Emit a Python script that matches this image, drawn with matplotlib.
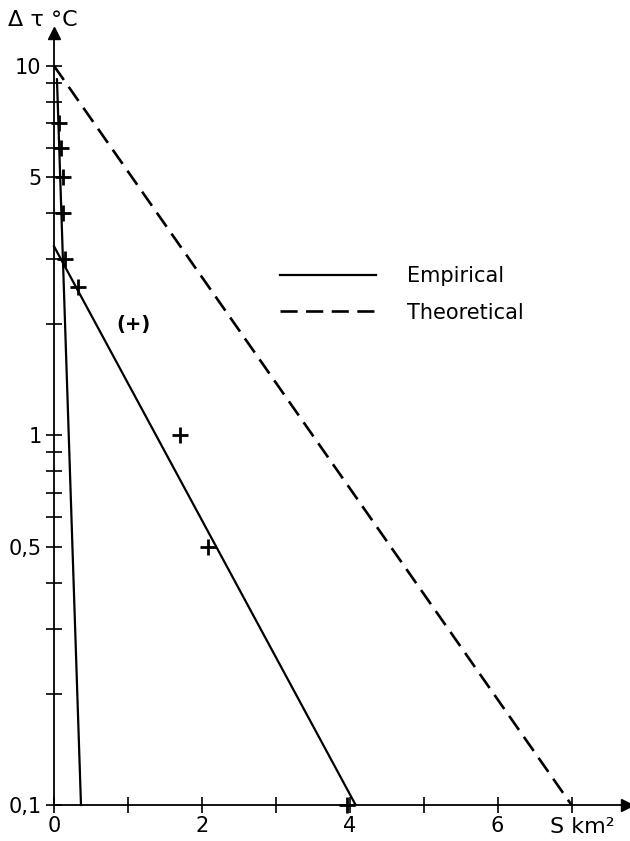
import matplotlib
matplotlib.use("Agg")
import matplotlib.pyplot as plt
from matplotlib.ticker import FixedLocator, NullFormatter

# ---- data ----
theo_x = [0.0, 7.0]
theo_y = [10.0, 0.1]

emp1_x = [0.0, 4.08]
emp1_y = [3.25, 0.1]

emp2_x = [0.04, 0.365]
emp2_y = [9.2, 0.1]

pts_x = [0.07, 0.10, 0.12, 0.12, 0.15, 0.32, 1.70, 2.08, 3.96]
pts_y = [7.0, 6.0, 5.0, 4.0, 3.0, 2.52, 1.0, 0.5, 0.1]

brk_x = [1.07]
brk_y = [2.0]

xticks = [0, 1, 2, 3, 4, 5, 6, 7]
xticklabels = ["0", "", "2", "", "4", "", "6", ""]
yticks = [0.1, 0.5, 1, 5, 10]
yticklabels = ["0,1", "0,5", "1", "5", "10"]
yminor = [0.2, 0.3, 0.4, 0.6, 0.7, 0.8, 0.9, 2, 3, 4, 6, 7, 8, 9]

plt.rcParams['font.family'] = ['DejaVu Sans']

W, H = 630, 841
fig = plt.figure(figsize=(W / 100, H / 100), dpi=100)
x0, x1 = 54, 627
yb, yt = 805, 33
ax = fig.add_axes([x0 / W, 1 - yb / H, (x1 - x0) / W, (yb - yt) / H])
ax.set_yscale('log')
ax.set_xlim(0, 7.75)
ax.set_ylim(0.1, 10 ** 1.089)

for s in ['top', 'right']:
    ax.spines[s].set_visible(False)
for s in ['left', 'bottom']:
    ax.spines[s].set_linewidth(1.3)

ax.plot(1, 0.1, '>k', markersize=8, transform=ax.get_yaxis_transform(), clip_on=False)
ax.plot(0, 1, '^k', markersize=8, transform=ax.get_xaxis_transform(), clip_on=False)

ax.xaxis.set_major_locator(FixedLocator(xticks))
ax.set_xticklabels(xticklabels)
ax.yaxis.set_major_locator(FixedLocator(yticks))
ax.set_yticklabels(yticklabels)
ax.yaxis.set_minor_locator(FixedLocator(yminor))
ax.yaxis.set_minor_formatter(NullFormatter())
ax.xaxis.set_minor_locator(FixedLocator([]))
ax.tick_params(which='both', direction='inout', length=12, width=1.2, labelsize=15, pad=3)
ax.tick_params(axis='x', pad=2)

lw = 1.6
ax.plot(theo_x, theo_y, color='black', lw=1.9, dashes=(6.5, 3.2), label='Theoretical', clip_on=False)
ax.plot(emp1_x, emp1_y, color='black', lw=lw, label='Empirical', clip_on=False)
ax.plot(emp2_x, emp2_y, color='black', lw=lw, clip_on=False)
ax.plot(pts_x, pts_y, linestyle='none', marker='+', color='black', markersize=11,
        markeredgewidth=2, clip_on=False)
for bx, by in zip(brk_x, brk_y):
    ax.text(bx, by, '(+)', ha='center', va='center', fontsize=14, fontweight='bold')

handles, labels = ax.get_legend_handles_labels()
order = [1, 0]
fig.legend([handles[i] for i in order], [labels[i] for i in order],
           loc='upper left', bbox_to_anchor=(280 / W, 1 - 266 / H),
           frameon=False, fontsize=15, handlelength=4.6, handletextpad=1.5,
           labelspacing=0.8, borderpad=0, borderaxespad=0)

fig.text(8 / W, 1 - 20 / H, 'Δ τ °C', ha='left', va='center', fontsize=16)
fig.text(550 / W, 1 - 827 / H, 'S km²', ha='left', va='center', fontsize=16)

fig.savefig('out.png', dpi=100)
